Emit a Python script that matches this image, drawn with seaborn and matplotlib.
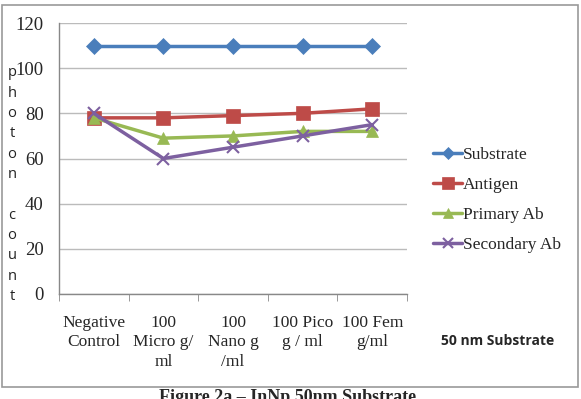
import pandas as pd
import seaborn as sns
import matplotlib.pyplot as plt
from matplotlib.patches import Rectangle
from matplotlib.lines import Line2D

categories = ["Negative\nControl", "100\nMicro g/\nml", "100\nNano g\n/ml", "100 Pico\ng / ml", "100 Fem\ng/ml"]
substrate = [110, 110, 110, 110, 110]
antigen = [78, 78, 79, 80, 82]
primary_ab = [78, 69, 70, 72, 72]
secondary_ab = [80, 60, 65, 70, 75]

series_names = ["Substrate", "Antigen", "Primary Ab", "Secondary Ab"]
colors = ["#4A7EBB", "#BE4B48", "#98B954", "#7D60A0"]
markers = ["D", "s", "^", "x"]
msizes = [8, 10, 9, 9]

rows = []
for name, vals in zip(series_names, [substrate, antigen, primary_ab, secondary_ab]):
    for i, v in enumerate(vals):
        rows.append({"pos": i, "value": v, "series": name})
df = pd.DataFrame(rows)

sns.set_style("white")
serif = ["Liberation Serif", "DejaVu Serif"]

fig = plt.figure(figsize=(5.81, 3.99), dpi=100)
ax = fig.add_axes([59 / 581, 1 - 294 / 399, 348 / 581, 271 / 399])

for name, c, m, ms in zip(series_names, colors, markers, msizes):
    sub = df[df["series"] == name]
    sns.lineplot(data=sub, x="pos", y="value", color=c, marker=m, markersize=ms,
                 markeredgecolor=c, markeredgewidth=1.5 if m == "x" else 0.5,
                 linewidth=2.5, ax=ax, legend=False)

ax.set_xlim(-0.5, 4.5)
ax.set_ylim(0, 120)
ax.set_yticks(range(0, 121, 20))
ax.set_yticklabels([str(v) for v in range(0, 121, 20)], fontfamily=serif, fontsize=13.5)
ax.set_xticks(range(5))
ax.set_xticklabels(categories, fontfamily=serif, fontsize=12.5, linespacing=1.3)
ax.set_xticks([i - 0.5 for i in range(6)], minor=True)
ax.tick_params(axis="x", which="major", length=0, pad=15)
ax.tick_params(axis="x", which="minor", length=5, color="#888888", direction="out", bottom=True)
ax.tick_params(axis="y", length=0, pad=11)
ax.set_xlabel("")
ax.set_ylabel("")
ax.grid(axis="y", color="#BBBBBB", linewidth=1)
ax.grid(axis="x", visible=False)
for s in ["top", "right"]:
    ax.spines[s].set_visible(False)
for s in ["left", "bottom"]:
    ax.spines[s].set_color("#888888")
    ax.spines[s].set_linewidth(1)

# vertical stacked y label
label = "photon count"
y0 = 1 - 73 / 399
step = 20.3 / 399
for k, ch in enumerate(label):
    if ch != " ":
        fig.text(12 / 581, y0 - k * step, ch, fontsize=10.5, fontfamily="Open Sans",
                 ha="center", va="center", color="#222222")

handles = [Line2D([0], [0], color=c, marker=m, markersize=ms * 0.8, linewidth=2.5,
                  markeredgecolor=c, markeredgewidth=1.5 if m == "x" else 0.5)
           for c, m, ms in zip(colors, markers, msizes)]
leg = fig.legend(handles, series_names, loc="upper left", bbox_to_anchor=(426 / 581, 1 - 140 / 399),
                 frameon=False, prop={"family": serif, "size": 12.5}, handlelength=1.7,
                 handletextpad=0.05, labelspacing=0.8, borderaxespad=0)

fig.text(498 / 581, 1 - 341 / 399, "50 nm Substrate", fontsize=10, fontweight="bold",
         fontfamily="Open Sans", ha="center", va="center")

fig.patches.append(Rectangle((2 / 581, 1 - 387 / 399), 576 / 581, 382 / 399,
                             transform=fig.transFigure, fill=False, edgecolor="#999999",
                             linewidth=1.2))

fig.text(288 / 581, 1 - 389 / 399, "Figure 2a \u2013 InNp 50nm Substrate", fontsize=13,
         fontweight="bold", fontfamily=serif, ha="center", va="top")

fig.savefig("out.png", dpi=100)
